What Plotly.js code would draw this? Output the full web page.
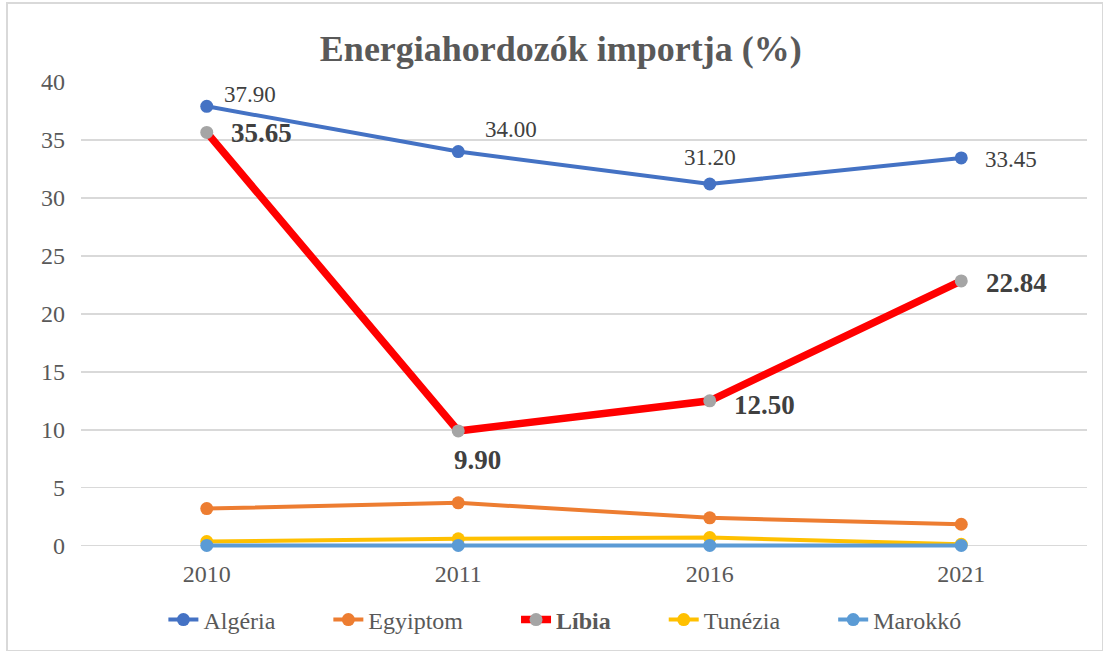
<!DOCTYPE html>
<html><head><meta charset="utf-8">
<script src="https://cdn.plot.ly/plotly-3.0.1.min.js"></script>
<style>
html,body{margin:0;padding:0;background:#fff;}
#wrap{position:absolute;left:6px;top:2px;width:1094px;height:646px;border:1px solid #d9d9d9;border-width:2px 1px 1px 2px;}
#chart{position:absolute;left:-8px;top:-4px;width:1104px;height:653px;}
</style></head>
<body><div id="wrap"><div id="chart"></div></div>
<script>
const years = ['2010','2011','2016','2021'];
const algeria = [37.90, 34.00, 31.20, 33.45];
const egyiptom = [3.2, 3.7, 2.4, 1.85];
const libia = [35.65, 9.90, 12.50, 22.84];
const tunezia = [0.35, 0.6, 0.7, 0.12];
const marokko = [0.02, 0.02, 0.02, 0.02];

// label offsets (pixels) relative to each point
const algShift = [[43, 12], [53, 22], [0, 27], [50, -2]];
const libShift = [[55, -1], [19, -29], [55, -4], [55, -2]];

const serif = 'Liberation Serif, Times New Roman, serif';
const pad = '\u00a0'.repeat(8);
const traces = [
  {x: years, y: algeria, name: 'Algéria' + pad, mode: 'lines+markers', cliponaxis: false,
   line: {color: '#4472C4', width: 4}, marker: {color: '#4472C4', size: 13}},
  {x: years, y: egyiptom, name: 'Egyiptom' + pad, mode: 'lines+markers', cliponaxis: false,
   line: {color: '#ED7D31', width: 4}, marker: {color: '#ED7D31', size: 13}},
  {x: years, y: libia, name: '<b>Líbia</b>' + pad, mode: 'lines+markers', cliponaxis: false,
   line: {color: '#FF0000', width: 7.5}, marker: {color: '#A5A5A5', size: 13}},
  {x: years, y: tunezia, name: 'Tunézia' + pad, mode: 'lines+markers', cliponaxis: false,
   line: {color: '#FFC000', width: 4}, marker: {color: '#FFC000', size: 13}},
  {x: years, y: marokko, name: 'Marokkó', mode: 'lines+markers', cliponaxis: false,
   line: {color: '#5B9BD5', width: 4}, marker: {color: '#5B9BD5', size: 13}}
];

const annotations = [];
years.forEach((yr, i) => {
  annotations.push({x: i, y: algeria[i], xref: 'x', yref: 'y', text: algeria[i].toFixed(2),
    showarrow: false, xanchor: 'center', yanchor: 'middle',
    xshift: algShift[i][0], yshift: algShift[i][1],
    font: {family: serif, size: 23, color: '#404040'}});
  annotations.push({x: i, y: libia[i], xref: 'x', yref: 'y', text: '<b>' + libia[i].toFixed(2) + '</b>',
    showarrow: false, xanchor: 'center', yanchor: 'middle',
    xshift: libShift[i][0], yshift: libShift[i][1],
    font: {family: serif, size: 27, color: '#404040'}});
});

const layout = {
  width: 1104, height: 653,
  margin: {l: 81, r: 17, t: 82, b: 104},
  paper_bgcolor: 'rgba(0,0,0,0)', plot_bgcolor: 'rgba(0,0,0,0)',
  title: {text: '<b>Energiahordozók importja (%)</b>', x: 0.508, xanchor: 'center', y: 0.926, yanchor: 'middle',
          font: {family: serif, size: 36, color: '#595959'}},
  xaxis: {type: 'category', range: [-0.5, 3.5], showgrid: false, zeroline: false, showline: false,
          ticks: '', ticklabelstandoff: 9, tickfont: {family: serif, size: 24, color: '#595959'}},
  yaxis: {range: [-0.2, 40], tick0: 0, dtick: 5, showgrid: true, gridcolor: '#d9d9d9', gridwidth: 1.5,
          zeroline: true, zerolinecolor: '#d9d9d9', zerolinewidth: 1.5, showline: false, ticks: '',
          ticklen: 0, ticklabelstandoff: 15, tickfont: {family: serif, size: 24, color: '#595959'}},
  annotations: annotations,
  showlegend: true,
  legend: {orientation: 'h', x: 0.481, xanchor: 'center', y: -0.152, yanchor: 'middle',
           font: {family: serif, size: 24, color: '#595959'}, tracegroupgap: 0},
};
Plotly.newPlot('chart', traces, layout, {displayModeBar: false, staticPlot: true});
</script></body></html>
